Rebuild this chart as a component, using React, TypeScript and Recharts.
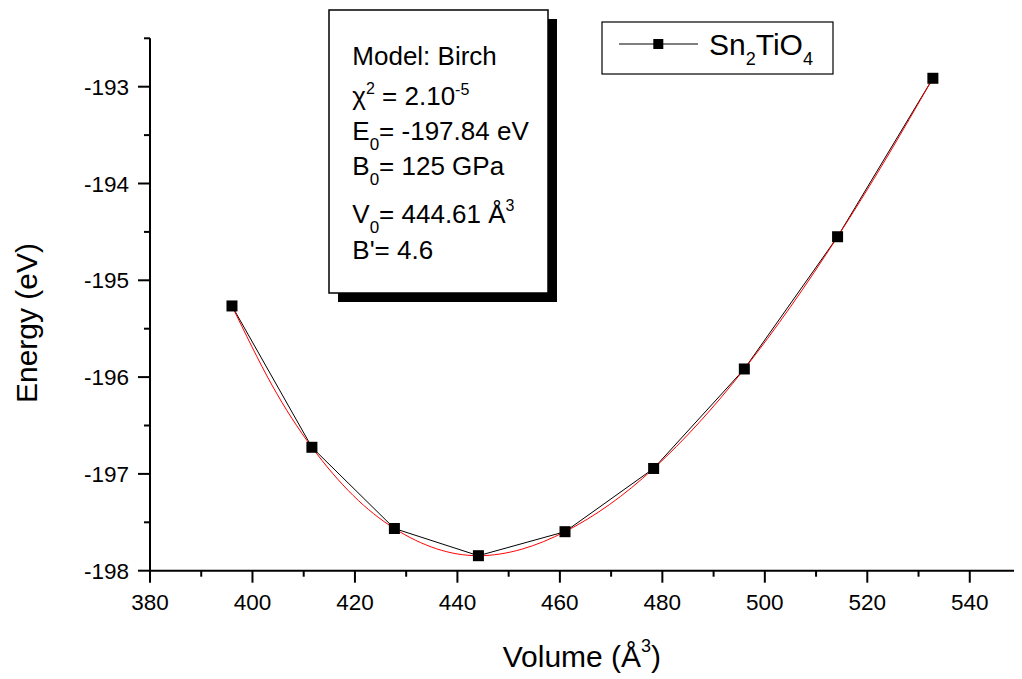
import React from 'react';
import { LineChart, Line, XAxis, YAxis, Customized } from 'recharts';

// Measured points (Sn2TiO4)
const volumes = [396.0, 411.6, 427.7, 444.1, 461.0, 478.3, 496.0, 514.2, 532.8];
const energies = [-195.265, -196.725, -197.564, -197.845, -197.597, -196.944, -195.916, -194.55, -192.913];

// Birch fit curve (red)
const fitVolumes = [396, 403.8, 411.6, 419.65, 427.7, 435.9, 444.1, 452.55, 461, 469.65, 478.3, 487.15, 496, 505.1, 514.2, 523.5, 532.8];
const fitEnergies = [-195.265, -196.082, -196.725, -197.223, -197.564, -197.773, -197.845, -197.778, -197.597, -197.318, -196.944, -196.471, -195.916, -195.267, -194.55, -193.758, -192.913];

const xTicks = [380, 390, 400, 410, 420, 430, 440, 450, 460, 470, 480, 490, 500, 510, 520, 530, 540, 550];
const yTicks = [-198, -197.5, -197, -196.5, -196, -195.5, -195, -194.5, -194, -193.5, -193, -192.5];

const FONT = '"Liberation Sans", Arial, Helvetica, sans-serif';

const pointData = volumes.map((v, i) => ({ volume: v, energy: energies[i] }));
const fitData = fitVolumes.map((v, i) => ({ volume: v, fit: fitEnergies[i] }));

const XTick = (props: any) => {
  const { x, y, payload } = props;
  const v = payload.value;
  const major = v % 20 === 0;
  return (
    <g>
      <line x1={x} x2={x} y1={y} y2={y + (major ? 12 : 6)} stroke="#000" strokeWidth={2} />
      {major && (
        <text x={x} y={y + 39.3} textAnchor="middle" fontSize={22.5} fontFamily={FONT} fill="#000">
          {v}
        </text>
      )}
    </g>
  );
};

const YTick = (props: any) => {
  const { x, y, payload } = props;
  const v = payload.value;
  const major = Number.isInteger(v);
  return (
    <g>
      <line x1={x} x2={x - (major ? 12 : 6)} y1={y} y2={y} stroke="#000" strokeWidth={2} />
      {major && (
        <text x={x - 21} y={y + 8} textAnchor="end" fontSize={22.5} fontFamily={FONT} fill="#000">
          {v}
        </text>
      )}
    </g>
  );
};

const Square = (p: any) => {
  if (p.cx == null || p.cy == null) return null;
  return <rect key={`sq${p.index}`} x={p.cx - 5.5} y={p.cy - 5.5} width={11} height={11} fill="#000" />;
};

const Overlay = () => {
  const bx = 344.3;
  const ts = { fontFamily: FONT, fontSize: 26, fill: '#000' } as any;
  return (
    <g>
      {/* info box */}
      <rect x={330} y={11} width={219} height={283} fill="#000" />
      <rect x={321} y={2} width={219} height={283} fill="#fff" stroke="#000" strokeWidth={1.5} />
      <text x={bx} y={57} {...ts}>Model: Birch</text>
      <text x={bx} y={97} {...ts}>
        χ<tspan fontSize={16} dy={-11}>2</tspan>
        <tspan dy={11}> = 2.10</tspan>
        <tspan fontSize={16} dy={-10}>-5</tspan>
      </text>
      <text x={bx} y={132} {...ts}>
        E<tspan fontSize={17} dy={10}>0</tspan>
        <tspan dy={-10}>= -197.84 eV</tspan>
      </text>
      <text x={bx} y={167} {...ts}>
        B<tspan fontSize={17} dy={10}>0</tspan>
        <tspan dy={-10}>= 125 GPa</tspan>
      </text>
      <text x={bx} y={215} {...ts}>
        V<tspan fontSize={17} dy={10}>0</tspan>
        <tspan dy={-10}>= 444.61 Å</tspan>
        <tspan fontSize={16} dy={-12}>3</tspan>
      </text>
      <text x={bx} y={251} {...ts}>B'= 4.6</text>

      {/* legend */}
      <rect x={594} y={14} width={231} height={52} fill="#fff" stroke="#000" strokeWidth={1.2} />
      <line x1={611} x2={690} y1={36} y2={36} stroke="#000" strokeWidth={1} />
      <rect x={645.3} y={31} width={10} height={10} fill="#000" />
      <text x={701} y={47} fontFamily={FONT} fontSize={30} fill="#000">
        Sn<tspan fontSize={18} dy={10}>2</tspan>
        <tspan dy={-10}>TiO</tspan>
        <tspan fontSize={18} dy={10}>4</tspan>
      </text>

      {/* axis titles */}
      <text x={494.7} y={658.7} fontFamily={FONT} fontSize={30} fill="#000">
        Volume (Å<tspan fontSize={18} dy={-15}>3</tspan>
        <tspan dy={15}>)</tspan>
      </text>
      <text
        x={28.7}
        y={315}
        transform="rotate(-90, 28.7, 315)"
        textAnchor="middle"
        fontFamily={FONT}
        fontSize={30}
        fill="#000"
      >
        Energy (eV)
      </text>
    </g>
  );
};

export default function App() {
  return (
    <div style={{ width: 1014, height: 671, background: '#fff' }}>
      <LineChart width={1014} height={671} margin={{ top: 30.3, right: 1, bottom: 48.3, left: 42 }}>
        <XAxis
          type="number"
          dataKey="volume"
          domain={[380, 550]}
          ticks={xTicks}
          interval={0}
          allowDataOverflow
          tickLine={false}
          tickSize={0}
          tickMargin={0}
          height={60}
          axisLine={{ stroke: '#000', strokeWidth: 2 }}
          tick={(p: any) => <XTick {...p} />}
        />
        <YAxis
          type="number"
          domain={[-198, -192.5]}
          ticks={yTicks}
          interval={0}
          allowDataOverflow
          tickLine={false}
          tickSize={0}
          tickMargin={0}
          width={100}
          axisLine={{ stroke: '#000', strokeWidth: 2 }}
          tick={(p: any) => <YTick {...p} />}
        />
        <Line
          data={pointData}
          dataKey="energy"
          type="linear"
          stroke="#000"
          strokeWidth={1}
          dot={false}
          activeDot={false}
          isAnimationActive={false}
        />
        <Line
          data={fitData}
          dataKey="fit"
          type="natural"
          stroke="#ff0000"
          strokeWidth={1}
          dot={false}
          activeDot={false}
          isAnimationActive={false}
        />
        <Line
          data={pointData}
          dataKey="energy"
          type="linear"
          stroke="none"
          dot={(p: any) => <Square key={`s${p.index}`} {...p} />}
          activeDot={false}
          isAnimationActive={false}
        />
        <Customized component={Overlay} />
      </LineChart>
    </div>
  );
}
